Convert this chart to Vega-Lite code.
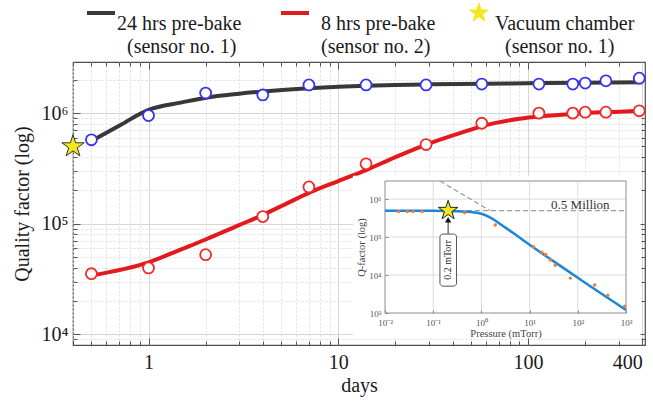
{
  "$schema": "https://vega.github.io/schema/vega-lite/v6.json",
  "width": 572,
  "height": 283,
  "autosize": {"type": "none"},
  "padding": {"left": 73, "top": 62, "right": 8, "bottom": 60},
  "background": "white",
  "config": {
    "font": "Liberation Serif",
    "view": {"stroke": "#4d4d4d", "strokeWidth": 1.2},
    "axis": {"labelFont": "Liberation Serif", "titleFont": "Liberation Serif", "titleFontWeight": "normal"}
  },
  "datasets": {
    "fit": [
      {"day": 0.5, "q": 560000, "series": "a"},
      {"day": 0.7, "q": 770000, "series": "a"},
      {"day": 1, "q": 1070000, "series": "a"},
      {"day": 1.5, "q": 1250000, "series": "a"},
      {"day": 2, "q": 1380000, "series": "a"},
      {"day": 3, "q": 1500000, "series": "a"},
      {"day": 4, "q": 1570000, "series": "a"},
      {"day": 7, "q": 1680000, "series": "a"},
      {"day": 10, "q": 1730000, "series": "a"},
      {"day": 14, "q": 1770000, "series": "a"},
      {"day": 20, "q": 1800000, "series": "a"},
      {"day": 30, "q": 1820000, "series": "a"},
      {"day": 60, "q": 1840000, "series": "a"},
      {"day": 120, "q": 1870000, "series": "a"},
      {"day": 200, "q": 1880000, "series": "a"},
      {"day": 400, "q": 1900000, "series": "a"},
      {"day": 0.5, "q": 34000, "series": "b"},
      {"day": 1, "q": 44700, "series": "b"},
      {"day": 1.5, "q": 59000, "series": "b"},
      {"day": 2, "q": 72000, "series": "b"},
      {"day": 3, "q": 97000, "series": "b"},
      {"day": 4, "q": 120000, "series": "b"},
      {"day": 5.5, "q": 156000, "series": "b"},
      {"day": 7, "q": 190000, "series": "b"},
      {"day": 10, "q": 243000, "series": "b"},
      {"day": 14, "q": 305000, "series": "b"},
      {"day": 20, "q": 400000, "series": "b"},
      {"day": 30, "q": 530000, "series": "b"},
      {"day": 45, "q": 670000, "series": "b"},
      {"day": 60, "q": 780000, "series": "b"},
      {"day": 90, "q": 890000, "series": "b"},
      {"day": 120, "q": 940000, "series": "b"},
      {"day": 200, "q": 1000000, "series": "b"},
      {"day": 300, "q": 1030000, "series": "b"},
      {"day": 400, "q": 1050000, "series": "b"}
    ],
    "meas": [
      {"day": 0.5, "q": 574000, "series": "a"},
      {"day": 1, "q": 950000, "series": "a"},
      {"day": 2, "q": 1520000, "series": "a"},
      {"day": 4, "q": 1460000, "series": "a"},
      {"day": 7, "q": 1800000, "series": "a"},
      {"day": 14, "q": 1800000, "series": "a"},
      {"day": 29, "q": 1800000, "series": "a"},
      {"day": 57, "q": 1830000, "series": "a"},
      {"day": 114, "q": 1830000, "series": "a"},
      {"day": 172, "q": 1830000, "series": "a"},
      {"day": 200, "q": 1870000, "series": "a"},
      {"day": 257, "q": 1960000, "series": "a"},
      {"day": 385, "q": 2070000, "series": "a"},
      {"day": 0.5, "q": 35300, "series": "b"},
      {"day": 1, "q": 39800, "series": "b"},
      {"day": 2, "q": 52500, "series": "b"},
      {"day": 4, "q": 116000, "series": "b"},
      {"day": 7, "q": 215000, "series": "b"},
      {"day": 14, "q": 348000, "series": "b"},
      {"day": 29, "q": 520000, "series": "b"},
      {"day": 57, "q": 810000, "series": "b"},
      {"day": 114, "q": 1000000, "series": "b"},
      {"day": 172, "q": 1000000, "series": "b"},
      {"day": 200, "q": 1020000, "series": "b"},
      {"day": 257, "q": 1020000, "series": "b"},
      {"day": 385, "q": 1050000, "series": "b"}
    ],
    "vac": [{"day": 0.4, "q": 500000, "series": "vac"}],
    "inset_fit": [
      {"p": 0.01, "q": 490000},
      {"p": 0.1, "q": 490000},
      {"p": 0.3, "q": 480000},
      {"p": 0.6, "q": 460000},
      {"p": 1, "q": 410000},
      {"p": 1.5, "q": 330000},
      {"p": 2, "q": 265000},
      {"p": 2.4, "q": 225000},
      {"p": 5, "q": 118000},
      {"p": 10, "q": 63000},
      {"p": 30, "q": 24000},
      {"p": 100, "q": 8500},
      {"p": 300, "q": 3300},
      {"p": 1000, "q": 1200}
    ],
    "inset_meas": [
      {"p": 0.019, "q": 470000},
      {"p": 0.029, "q": 470000},
      {"p": 0.038, "q": 470000},
      {"p": 0.059, "q": 470000},
      {"p": 0.45, "q": 440000},
      {"p": 1.94, "q": 207000},
      {"p": 12, "q": 56000},
      {"p": 18, "q": 40000},
      {"p": 21.5, "q": 35000},
      {"p": 27, "q": 25000},
      {"p": 34, "q": 18000},
      {"p": 70, "q": 8300},
      {"p": 224, "q": 5500},
      {"p": 420, "q": 2950},
      {"p": 940, "q": 1500}
    ]
  },
  "layer": [
    {
      "layer": [
        {
          "data": {"name": "fit"},
          "mark": {"type": "line", "strokeWidth": 4, "interpolate": "monotone"},
          "encoding": {
            "x": {"field": "day", "type": "quantitative",
              "scale": {"type": "log", "domain": [0.4, 413], "nice": false},
              "axis": {"orient": "bottom", "values": [1, 10, 100, 400], "labelExpr": "'' + datum.value", "labelFontSize": 20, "labelColor": "#1a1a1a", "labelPadding": 14, "labelOverlap": false, "labelFlush": 5, "tickSize": -7, "tickColor": "#555", "grid": true, "gridColor": "#d6d6d6", "domain": false, "title": "days", "titleFontSize": 20, "titleColor": "#1a1a1a", "titlePadding": 3}},
            "y": {"field": "q", "type": "quantitative",
              "scale": {"type": "log", "domain": [8000, 2900000], "nice": false},
              "axis": {"orient": "left", "values": [10000, 100000, 1000000], "labelExpr": "datum.value < 50000 ? '10⁴' : datum.value < 500000 ? '10⁵' : '10⁶'", "labelFontSize": 20, "labelColor": "#1a1a1a", "labelPadding": 12, "labelOverlap": false, "tickSize": -7, "tickColor": "#555", "grid": true, "gridColor": "#d6d6d6", "domain": false, "title": "Quality factor (log)", "titleFontSize": 20, "titleColor": "#1a1a1a", "titlePadding": 9}},
            "color": {"field": "series", "type": "nominal",
              "scale": {"domain": ["a", "b", "vac"], "range": ["#383838", "#e3191b", "#f3e81c"]},
              "legend": {
                "orient": "none", "legendX": 18, "legendY": -59, "direction": "horizontal", "title": null,
                "labelFont": "Liberation Serif", "labelFontSize": 20, "labelColor": "#1a1a1a", "labelLimit": 300,
                "symbolSize": 784, "symbolStrokeWidth": 4, "labelOffset": 6, "columnPadding": 21,
                "labelExpr": "datum.value == 'a' ? ['24 hrs pre-bake\u00a0\u00a0\u200b', '\u200b\u00a0\u00a0(sensor no. 1)'] : datum.value == 'b' ? ['\u200b\u00a0\u00a08 hrs pre-bake\u00a0\u00a0\u200b', '\u200b\u00a0\u00a0(sensor no. 2)'] : ['Vacuum chamber', '\u200b\u00a0\u00a0(sensor no. 1)']",
                "encode": {
                  "symbols": {"update": {
                    "shape": {"signal": "datum.value == 'vac' ? 'M0,-1L0.225,-0.309L0.951,-0.309L0.363,0.118L0.588,0.809L0,0.382L-0.588,0.809L-0.363,0.118L-0.951,-0.309L-0.225,-0.309Z' : 'stroke'"},
                    "fill": {"signal": "datum.value == 'vac' ? '#f3e81c' : 'transparent'"},
                    "stroke": {"signal": "datum.value == 'vac' ? '#333333' : datum.value == 'a' ? '#383838' : '#e3191b'"},
                    "strokeWidth": {"signal": "datum.value == 'vac' ? 1 : 4"},
                    "size": {"signal": "datum.value == 'vac' ? 380 : 784"}
                  }},
                  "labels": {"update": {"lineHeight": {"value": 23}, "dy": {"value": 11}}}
                }
              }}
          }
        },
        {
          "data": {"name": "meas"},
          "mark": {"type": "point", "shape": "circle", "size": 120, "strokeWidth": 1.8, "fill": "white", "opacity": 1},
          "encoding": {
            "x": {"field": "day", "type": "quantitative",
              "scale": {"type": "log", "domain": [0.4, 413], "nice": false},
              "axis": {"orient": "bottom", "values": [0.4, 0.5, 0.6, 0.7, 0.8, 0.9, 2, 3, 4, 5, 6, 7, 8, 9, 20, 30, 40, 50, 60, 70, 80, 90, 200, 300], "labels": false, "tickSize": -4, "tickColor": "#555", "grid": true, "gridColor": "#dedede", "gridDash": [2, 2], "domain": false, "title": null}},
            "y": {"field": "q", "type": "quantitative",
              "scale": {"type": "log", "domain": [8000, 2900000], "nice": false},
              "axis": {"orient": "left", "values": [9000, 20000, 30000, 40000, 50000, 60000, 70000, 80000, 90000, 200000, 300000, 400000, 500000, 600000, 700000, 800000, 900000, 2000000], "labels": false, "tickSize": -4, "tickColor": "#555", "grid": true, "gridColor": "#dedede", "gridDash": [2, 2], "domain": false, "title": null}},
            "stroke": {"field": "series", "type": "nominal", "scale": {"domain": ["a", "b"], "range": ["#3535f0", "#f02a2a"]}, "legend": null}
          }
        },
        {
          "data": {"name": "vac"},
          "mark": {"type": "point", "filled": true, "shape": "M0,-1L0.225,-0.309L0.951,-0.309L0.363,0.118L0.588,0.809L0,0.382L-0.588,0.809L-0.363,0.118L-0.951,-0.309L-0.225,-0.309Z", "size": 550, "fill": "#f3e81c", "stroke": "#333333", "strokeWidth": 1, "opacity": 1},
          "encoding": {
            "x": {"field": "day", "type": "quantitative",
              "scale": {"type": "log", "domain": [0.4, 413], "nice": false},
              "axis": {"orient": "top", "values": [1, 10, 100], "labels": false, "tickSize": -7, "tickColor": "#555", "grid": false, "domain": false, "title": null}},
            "y": {"field": "q", "type": "quantitative",
              "scale": {"type": "log", "domain": [8000, 2900000], "nice": false},
              "axis": {"orient": "right", "values": [10000, 100000, 1000000], "labels": false, "tickSize": -7, "tickColor": "#555", "grid": false, "domain": false, "title": null}}
          }
        },
        {
          "data": {"name": "meas"},
          "mark": {"type": "point", "opacity": 0},
          "encoding": {
            "x": {"field": "day", "type": "quantitative",
              "scale": {"type": "log", "domain": [0.4, 413], "nice": false},
              "axis": {"orient": "top", "values": [0.4, 0.5, 0.6, 0.7, 0.8, 0.9, 2, 3, 4, 5, 6, 7, 8, 9, 20, 30, 40, 50, 60, 70, 80, 90, 200, 300], "labels": false, "tickSize": -4, "tickColor": "#555", "grid": false, "domain": false, "title": null}},
            "y": {"field": "q", "type": "quantitative",
              "scale": {"type": "log", "domain": [8000, 2900000], "nice": false},
              "axis": {"orient": "right", "values": [9000, 20000, 30000, 40000, 50000, 60000, 70000, 80000, 90000, 200000, 300000, 400000, 500000, 600000, 700000, 800000, 900000, 2000000], "labels": false, "tickSize": -4, "tickColor": "#555", "grid": false, "domain": false, "title": null}}
          }
        }
      ],
      "resolve": {"axis": {"x": "independent", "y": "independent"}}
    },
    {
      "layer": [
        {
          "data": {"values": [{"x1": 0.00216, "x2": 2000, "y1": 220, "y2": 4100000}]},
          "mark": {"type": "rect", "fill": "white", "stroke": null},
          "encoding": {
            "x": {"field": "x1", "type": "quantitative",
              "scale": {"type": "log", "domain": [0.01, 1000], "range": [312, 553], "nice": false},
              "axis": {"orient": "bottom", "offset": -32, "values": [0.01, 0.1, 1, 10, 100, 1000], "labelExpr": "datum.value < 0.05 ? '10⁻²' : datum.value < 0.5 ? '10⁻¹' : datum.value < 5 ? '10⁰' : datum.value < 50 ? '10¹' : datum.value < 500 ? '10²' : '10³'", "labelFontSize": 9, "labelColor": "#555", "labelPadding": 8, "labelFlush": false, "labelOverlap": false, "tickSize": -3, "tickColor": "#888", "grid": false, "domain": false, "title": "Pressure (mTorr)", "titleFontSize": 10.5, "titleColor": "#444", "titlePadding": 1, "zindex": 1}},
            "x2": {"field": "x2"},
            "y": {"field": "y1", "type": "quantitative",
              "scale": {"type": "log", "domain": [1000, 3000000], "range": [251, 119], "nice": false},
              "axis": {"orient": "left", "offset": -312, "values": [1000, 10000, 100000, 1000000], "labelExpr": "datum.value < 5000 ? '10³' : datum.value < 50000 ? '10⁴' : datum.value < 500000 ? '10⁵' : '10⁶'", "labelFontSize": 9, "labelColor": "#555", "labelPadding": 7, "labelOverlap": false, "tickSize": -3, "tickColor": "#888", "grid": false, "domain": false, "title": "Q-factor (log)", "titleFontSize": 10.5, "titleColor": "#444", "titlePadding": 2, "zindex": 1}},
            "y2": {"field": "y2"}
          }
        },
        {
          "data": {"values": [{"v": 0.1}, {"v": 1}, {"v": 10}, {"v": 100}]},
          "mark": {"type": "rule", "color": "#dcdcdc", "strokeWidth": 1},
          "encoding": {
            "x": {"field": "v", "type": "quantitative", "scale": {"type": "log", "domain": [0.01, 1000], "range": [312, 553], "nice": false}, "axis": null},
            "y": {"datum": 1000, "type": "quantitative", "scale": {"type": "log", "domain": [1000, 3000000], "range": [251, 119], "nice": false}, "axis": null},
            "y2": {"datum": 3000000}
          }
        },
        {
          "data": {"values": [{"v": 10000}, {"v": 100000}, {"v": 1000000}]},
          "mark": {"type": "rule", "color": "#dcdcdc", "strokeWidth": 1},
          "encoding": {
            "y": {"field": "v", "type": "quantitative", "scale": {"type": "log", "domain": [1000, 3000000], "range": [251, 119], "nice": false}, "axis": null},
            "x": {"datum": 0.01, "type": "quantitative", "scale": {"type": "log", "domain": [0.01, 1000], "range": [312, 553], "nice": false}, "axis": null},
            "x2": {"datum": 1000}
          }
        },
        {
          "data": {"values": [{"x1": 0.01, "x2": 1000, "y1": 1000, "y2": 3000000}]},
          "mark": {"type": "rect", "filled": false, "stroke": "#8c8c8c", "strokeWidth": 1},
          "encoding": {
            "x": {"field": "x1", "type": "quantitative", "scale": {"type": "log", "domain": [0.01, 1000], "range": [312, 553], "nice": false}, "axis": null},
            "x2": {"field": "x2"},
            "y": {"field": "y1", "type": "quantitative", "scale": {"type": "log", "domain": [1000, 3000000], "range": [251, 119], "nice": false}, "axis": null},
            "y2": {"field": "y2"}
          }
        },
        {
          "data": {"values": [{"x1": 0.5, "y1": 500000, "x2": 1000, "y2": 500000}, {"x1": 0.138, "y1": 3000000, "x2": 1.5, "y2": 500000}]},
          "mark": {"type": "rule", "color": "#9a9a9a", "strokeWidth": 1.2, "strokeDash": [5, 3]},
          "encoding": {
            "x": {"field": "x1", "type": "quantitative", "scale": {"type": "log", "domain": [0.01, 1000], "range": [312, 553], "nice": false}, "axis": null},
            "x2": {"field": "x2"},
            "y": {"field": "y1", "type": "quantitative", "scale": {"type": "log", "domain": [1000, 3000000], "range": [251, 119], "nice": false}, "axis": null},
            "y2": {"field": "y2"}
          }
        },
        {
          "data": {"name": "inset_fit"},
          "mark": {"type": "line", "color": "#1b87d6", "strokeWidth": 2.5, "interpolate": "monotone"},
          "encoding": {
            "x": {"field": "p", "type": "quantitative", "scale": {"type": "log", "domain": [0.01, 1000], "range": [312, 553], "nice": false}, "axis": null},
            "y": {"field": "q", "type": "quantitative", "scale": {"type": "log", "domain": [1000, 3000000], "range": [251, 119], "nice": false}, "axis": null}
          }
        },
        {
          "data": {"name": "inset_meas"},
          "mark": {"type": "point", "filled": true, "shape": "circle", "size": 12, "color": "#f07a3a", "opacity": 1},
          "encoding": {
            "x": {"field": "p", "type": "quantitative", "scale": {"type": "log", "domain": [0.01, 1000], "range": [312, 553], "nice": false}, "axis": null},
            "y": {"field": "q", "type": "quantitative", "scale": {"type": "log", "domain": [1000, 3000000], "range": [251, 119], "nice": false}, "axis": null}
          }
        },
        {
          "data": {"values": [{"x": 0.204, "y1": 120000, "y2": 270000}]},
          "mark": {"type": "rule", "color": "#333333", "strokeWidth": 1},
          "encoding": {
            "x": {"field": "x", "type": "quantitative", "scale": {"type": "log", "domain": [0.01, 1000], "range": [312, 553], "nice": false}, "axis": null},
            "y": {"field": "y1", "type": "quantitative", "scale": {"type": "log", "domain": [1000, 3000000], "range": [251, 119], "nice": false}, "axis": null},
            "y2": {"field": "y2"}
          }
        },
        {
          "data": {"values": [{"x": 0.204, "y": 285000}]},
          "mark": {"type": "point", "shape": "triangle-up", "filled": true, "size": 40, "color": "#111111", "opacity": 1},
          "encoding": {
            "x": {"field": "x", "type": "quantitative", "scale": {"type": "log", "domain": [0.01, 1000], "range": [312, 553], "nice": false}, "axis": null},
            "y": {"field": "y", "type": "quantitative", "scale": {"type": "log", "domain": [1000, 3000000], "range": [251, 119], "nice": false}, "axis": null}
          }
        },
        {
          "data": {"values": [{"x1": 0.138, "x2": 0.305, "y1": 5100, "y2": 120000}]},
          "mark": {"type": "rect", "fill": "white", "stroke": "#555555", "strokeWidth": 1, "cornerRadius": 3},
          "encoding": {
            "x": {"field": "x1", "type": "quantitative", "scale": {"type": "log", "domain": [0.01, 1000], "range": [312, 553], "nice": false}, "axis": null},
            "x2": {"field": "x2"},
            "y": {"field": "y1", "type": "quantitative", "scale": {"type": "log", "domain": [1000, 3000000], "range": [251, 119], "nice": false}, "axis": null},
            "y2": {"field": "y2"}
          }
        },
        {
          "data": {"values": [{"x": 0.205, "y": 25000, "t": "0.2 mTorr"}]},
          "mark": {"type": "text", "angle": 270, "fontSize": 10, "color": "#222222", "align": "center", "baseline": "middle"},
          "encoding": {
            "x": {"field": "x", "type": "quantitative", "scale": {"type": "log", "domain": [0.01, 1000], "range": [312, 553], "nice": false}, "axis": null},
            "y": {"field": "y", "type": "quantitative", "scale": {"type": "log", "domain": [1000, 3000000], "range": [251, 119], "nice": false}, "axis": null},
            "text": {"field": "t"}
          }
        },
        {
          "data": {"values": [{"x": 0.204, "y": 500000}]},
          "mark": {"type": "point", "filled": true, "shape": "M0,-1L0.225,-0.309L0.951,-0.309L0.363,0.118L0.588,0.809L0,0.382L-0.588,0.809L-0.363,0.118L-0.951,-0.309L-0.225,-0.309Z", "size": 420, "fill": "#f3e81c", "stroke": "#222222", "strokeWidth": 1, "opacity": 1},
          "encoding": {
            "x": {"field": "x", "type": "quantitative", "scale": {"type": "log", "domain": [0.01, 1000], "range": [312, 553], "nice": false}, "axis": null},
            "y": {"field": "y", "type": "quantitative", "scale": {"type": "log", "domain": [1000, 3000000], "range": [251, 119], "nice": false}, "axis": null}
          }
        },
        {
          "data": {"values": [{"x": 113, "y": 690000, "t": "0.5 Million"}]},
          "mark": {"type": "text", "fontSize": 13, "color": "#333333", "align": "center", "baseline": "middle"},
          "encoding": {
            "x": {"field": "x", "type": "quantitative", "scale": {"type": "log", "domain": [0.01, 1000], "range": [312, 553], "nice": false}, "axis": null},
            "y": {"field": "y", "type": "quantitative", "scale": {"type": "log", "domain": [1000, 3000000], "range": [251, 119], "nice": false}, "axis": null},
            "text": {"field": "t"}
          }
        }
      ],
      "resolve": {"axis": {"x": "independent", "y": "independent"}}
    }
  ],
  "resolve": {"scale": {"x": "independent", "y": "independent"}}
}
